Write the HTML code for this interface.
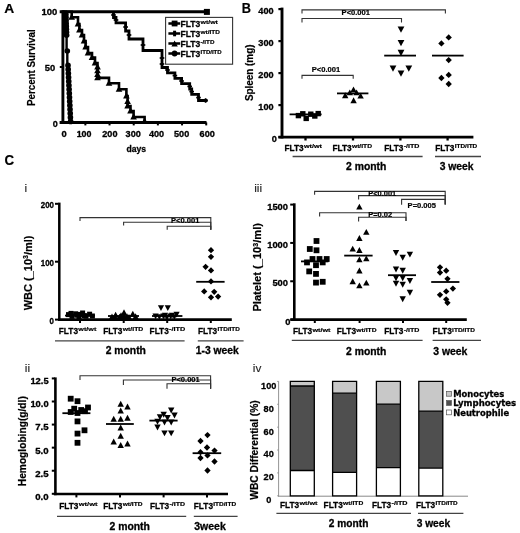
<!DOCTYPE html>
<html lang="en">
<head>
<meta charset="utf-8">
<title>FLT3 ITD figure</title>
<style>
html,body{margin:0;padding:0;background:#fff;}
body{width:520px;height:533px;overflow:hidden;}
svg{display:block;font-family:"Liberation Sans",sans-serif;font-weight:bold;filter:blur(0.35px);}
text{stroke:#000;stroke-width:0.3px;stroke-linejoin:round;}
text.n{stroke-width:0.15px;stroke:#333;}
text.s{stroke-width:0.2px;}
</style>
</head>
<body>
<svg width="520" height="533" viewBox="0 0 520 533">
<rect x="0" y="0" width="520" height="533" fill="#ffffff"/>
<text x="4.2" y="12.9" font-size="13.7" textLength="10" lengthAdjust="spacingAndGlyphs" class="s">A</text>
<text x="35" y="67.7" font-size="10.3" text-anchor="middle" textLength="76.7" lengthAdjust="spacingAndGlyphs" transform="rotate(-90 35 67.7)" class="s">Percent Survival</text>
<text x="57.4" y="15.1" font-size="8.6" text-anchor="end" textLength="15.8" lengthAdjust="spacingAndGlyphs">100</text>
<text x="55.2" y="70.8" font-size="8.6" text-anchor="end" textLength="10.4" lengthAdjust="spacingAndGlyphs">50</text>
<text x="57.8" y="126.7" font-size="8.6" text-anchor="end" textLength="5" lengthAdjust="spacingAndGlyphs">0</text>
<text x="64.2" y="137.3" font-size="8.6" text-anchor="middle" textLength="5.2" lengthAdjust="spacingAndGlyphs">0</text>
<text x="84.1" y="137.3" font-size="8.6" text-anchor="middle" textLength="14.8" lengthAdjust="spacingAndGlyphs">100</text>
<text x="109.9" y="137.3" font-size="8.6" text-anchor="middle" textLength="15.2" lengthAdjust="spacingAndGlyphs">200</text>
<text x="133.2" y="137.3" font-size="8.6" text-anchor="middle" textLength="15.2" lengthAdjust="spacingAndGlyphs">300</text>
<text x="156.5" y="137.3" font-size="8.6" text-anchor="middle" textLength="15.2" lengthAdjust="spacingAndGlyphs">400</text>
<text x="181.6" y="137.3" font-size="8.6" text-anchor="middle" textLength="15.2" lengthAdjust="spacingAndGlyphs">500</text>
<text x="207.2" y="137.3" font-size="8.6" text-anchor="middle" textLength="15.2" lengthAdjust="spacingAndGlyphs">600</text>
<text x="136.3" y="151.5" font-size="9.4" text-anchor="middle" textLength="19.6" lengthAdjust="spacingAndGlyphs">days</text>
<line x1="62.9" y1="10.2" x2="62.9" y2="123.9" stroke="#000" stroke-width="2.9"/>
<line x1="59.6" y1="122.4" x2="206.5" y2="122.4" stroke="#000" stroke-width="3"/>
<line x1="59.8" y1="67" x2="63" y2="67" stroke="#000" stroke-width="2"/>
<line x1="85.37" y1="122.4" x2="85.37" y2="125.4" stroke="#000" stroke-width="2"/>
<line x1="109.54" y1="122.4" x2="109.54" y2="125.4" stroke="#000" stroke-width="2"/>
<line x1="133.71" y1="122.4" x2="133.71" y2="125.4" stroke="#000" stroke-width="2"/>
<line x1="157.88" y1="122.4" x2="157.88" y2="125.4" stroke="#000" stroke-width="2"/>
<line x1="182.05" y1="122.4" x2="182.05" y2="125.4" stroke="#000" stroke-width="2"/>
<line x1="206.22" y1="122.4" x2="206.22" y2="125.4" stroke="#000" stroke-width="2"/>
<line x1="59.7" y1="11.7" x2="207" y2="11.7" stroke="#000" stroke-width="3"/>
<rect x="203.9" y="8.9" width="6" height="6" fill="#000"/>
<path d="M113.5,11.7 V17.5 H116 V22.9 H125.6 V31 H129 V39 H143 V50.5 H162 V67.5 H167.5 V72.9 H174.9 V78.3 H181.6 V83.6 H189.7 V89 H191.7 V94.4 H198.5 V100.5 H207.4" fill="none" stroke="#000" stroke-width="2.8" stroke-linejoin="miter"/>
<line x1="111.2" y1="15" x2="115.8" y2="15" stroke="#000" stroke-width="1.7"/>
<line x1="113.5" y1="12.7" x2="113.5" y2="17.3" stroke="#000" stroke-width="1.7"/>
<line x1="113.7" y1="20" x2="118.3" y2="20" stroke="#000" stroke-width="1.7"/>
<line x1="116" y1="17.7" x2="116" y2="22.3" stroke="#000" stroke-width="1.7"/>
<line x1="123.3" y1="27" x2="127.9" y2="27" stroke="#000" stroke-width="1.7"/>
<line x1="125.6" y1="24.7" x2="125.6" y2="29.3" stroke="#000" stroke-width="1.7"/>
<line x1="126.7" y1="35" x2="131.3" y2="35" stroke="#000" stroke-width="1.7"/>
<line x1="129" y1="32.7" x2="129" y2="37.3" stroke="#000" stroke-width="1.7"/>
<line x1="140.7" y1="45" x2="145.3" y2="45" stroke="#000" stroke-width="1.7"/>
<line x1="143" y1="42.7" x2="143" y2="47.3" stroke="#000" stroke-width="1.7"/>
<line x1="159.7" y1="58" x2="164.3" y2="58" stroke="#000" stroke-width="1.7"/>
<line x1="162" y1="55.7" x2="162" y2="60.3" stroke="#000" stroke-width="1.7"/>
<line x1="159.7" y1="64" x2="164.3" y2="64" stroke="#000" stroke-width="1.7"/>
<line x1="162" y1="61.7" x2="162" y2="66.3" stroke="#000" stroke-width="1.7"/>
<line x1="165.2" y1="70" x2="169.8" y2="70" stroke="#000" stroke-width="1.7"/>
<line x1="167.5" y1="67.7" x2="167.5" y2="72.3" stroke="#000" stroke-width="1.7"/>
<line x1="172.6" y1="75.6" x2="177.2" y2="75.6" stroke="#000" stroke-width="1.7"/>
<line x1="174.9" y1="73.3" x2="174.9" y2="77.9" stroke="#000" stroke-width="1.7"/>
<line x1="179.3" y1="81" x2="183.9" y2="81" stroke="#000" stroke-width="1.7"/>
<line x1="181.6" y1="78.7" x2="181.6" y2="83.3" stroke="#000" stroke-width="1.7"/>
<line x1="187.4" y1="86.4" x2="192" y2="86.4" stroke="#000" stroke-width="1.7"/>
<line x1="189.7" y1="84.1" x2="189.7" y2="88.7" stroke="#000" stroke-width="1.7"/>
<line x1="189.4" y1="91.6" x2="194" y2="91.6" stroke="#000" stroke-width="1.7"/>
<line x1="191.7" y1="89.3" x2="191.7" y2="93.9" stroke="#000" stroke-width="1.7"/>
<line x1="196.2" y1="97.6" x2="200.8" y2="97.6" stroke="#000" stroke-width="1.7"/>
<line x1="198.5" y1="95.3" x2="198.5" y2="99.9" stroke="#000" stroke-width="1.7"/>
<line x1="203.3" y1="100.5" x2="207.9" y2="100.5" stroke="#000" stroke-width="1.7"/>
<line x1="205.6" y1="98.2" x2="205.6" y2="102.8" stroke="#000" stroke-width="1.7"/>
<path d="M63.5,11.7 H71.7 V17.3 H78 V24 H79.4 V30 H82 V35 H84 V41 H85.6 V47 H88 V53 H92 V57.6 H95 V63 H97.5 V77.9 H109 V83.3 H119 V89.3 H126.4 V96 H127.6 V106 H130.5 V111 H133.6 V117 H144.6 V122" fill="none" stroke="#000" stroke-width="2.6" stroke-linejoin="miter"/>
<polygon points="71.7,13.56 75,19.64 68.4,19.64"/>
<polygon points="78,20.36 81.3,26.44 74.7,26.44"/>
<polygon points="79.4,26.36 82.7,32.44 76.1,32.44"/>
<polygon points="82,31.36 85.3,37.44 78.7,37.44"/>
<polygon points="84,37.36 87.3,43.44 80.7,43.44"/>
<polygon points="85.6,43.36 88.9,49.44 82.3,49.44"/>
<polygon points="88,49.36 91.3,55.44 84.7,55.44"/>
<polygon points="92,53.96 95.3,60.04 88.7,60.04"/>
<polygon points="95,59.36 98.3,65.44 91.7,65.44"/>
<polygon points="97.5,63.36 100.8,69.44 94.2,69.44"/>
<polygon points="97.5,67.16 100.8,73.24 94.2,73.24"/>
<polygon points="97.5,70.96 100.8,77.04 94.2,77.04"/>
<polygon points="97.5,74.26 100.8,80.34 94.2,80.34"/>
<polygon points="109,79.66 112.3,85.74 105.7,85.74"/>
<polygon points="119,85.66 122.3,91.74 115.7,91.74"/>
<polygon points="126.4,92.36 129.7,98.44 123.1,98.44"/>
<polygon points="127.6,97.96 130.9,104.04 124.3,104.04"/>
<polygon points="127.6,102.36 130.9,108.44 124.3,108.44"/>
<polygon points="130.5,107.36 133.8,113.44 127.2,113.44"/>
<polygon points="133.6,113.36 136.9,119.44 130.3,119.44"/>
<polygon points="144.6,117.56 147.9,123.64 141.3,123.64"/>
<circle cx="65.9" cy="14.6" r="2.8"/>
<circle cx="66" cy="17.55" r="2.8"/>
<circle cx="66.1" cy="20.5" r="2.8"/>
<circle cx="66.2" cy="23.45" r="2.8"/>
<circle cx="66.3" cy="26.4" r="2.8"/>
<circle cx="66.4" cy="29.35" r="2.8"/>
<circle cx="66.5" cy="32.3" r="2.8"/>
<circle cx="66.6" cy="35.25" r="2.8"/>
<circle cx="67.3" cy="51" r="2.8"/>
<circle cx="68" cy="65.4" r="2.8"/>
<circle cx="68.19" cy="69.4" r="2.8"/>
<circle cx="68.37" cy="73.4" r="2.8"/>
<circle cx="68.56" cy="77.4" r="2.8"/>
<circle cx="68.74" cy="81.4" r="2.8"/>
<circle cx="68.93" cy="85.4" r="2.8"/>
<circle cx="69.11" cy="89.4" r="2.8"/>
<circle cx="69.3" cy="93.4" r="2.8"/>
<circle cx="69.49" cy="97.4" r="2.8"/>
<circle cx="69.67" cy="101.4" r="2.8"/>
<circle cx="69.86" cy="105.4" r="2.8"/>
<circle cx="70.04" cy="109.4" r="2.8"/>
<circle cx="70.23" cy="113.4" r="2.8"/>
<circle cx="70.41" cy="117.4" r="2.8"/>
<circle cx="70.6" cy="121.4" r="2.8"/>
<path d="M63.5,11.7 H65.9 V14.6 H65.9 V17.55 H66 V20.5 H66.1 V23.45 H66.2 V26.4 H66.3 V29.35 H66.4 V32.3 H66.5 V35.25 H66.6 V51 H67.3 V65.4 H68 V69.4 H68.19 V73.4 H68.37 V77.4 H68.56 V81.4 H68.74 V85.4 H68.93 V89.4 H69.11 V93.4 H69.3 V97.4 H69.49 V101.4 H69.67 V105.4 H69.86 V109.4 H70.04 V113.4 H70.23 V117.4 H70.41 V121.4 H70.6 V122" fill="none" stroke="#000" stroke-width="2.4"/>
<rect x="165.6" y="17.4" width="67" height="46.8" fill="#fff" stroke="#333" stroke-width="1.1"/>
<line x1="168.4" y1="23.5" x2="180.2" y2="23.5" stroke="#000" stroke-width="2.5"/>
<rect x="171.7" y="20.6" width="5.8" height="5.8" fill="#000"/>
<text x="180.5" y="27" font-size="9.6" textLength="19.8" lengthAdjust="spacingAndGlyphs">FLT3</text>
<text x="200.5" y="24.3" font-size="6.2" textLength="17.4" lengthAdjust="spacingAndGlyphs" class="s">wt/wt</text>
<line x1="168.4" y1="33.5" x2="180.2" y2="33.5" stroke="#000" stroke-width="2.5"/>
<line x1="174.6" y1="30.7" x2="174.6" y2="36.3" stroke="#000" stroke-width="3"/>
<text x="180.5" y="37" font-size="9.6" textLength="19.8" lengthAdjust="spacingAndGlyphs">FLT3</text>
<text x="200.5" y="34.3" font-size="6.2" textLength="19.4" lengthAdjust="spacingAndGlyphs" class="s">wt/ITD</text>
<line x1="168.4" y1="43.5" x2="180.2" y2="43.5" stroke="#000" stroke-width="2.5"/>
<polygon points="174.6,40.56 177.8,46.44 171.4,46.44"/>
<text x="180.5" y="47" font-size="9.6" textLength="19.8" lengthAdjust="spacingAndGlyphs">FLT3</text>
<text x="200.5" y="44.3" font-size="6.2" textLength="13.9" lengthAdjust="spacingAndGlyphs" class="s">-/ITD</text>
<line x1="168.4" y1="53.5" x2="180.2" y2="53.5" stroke="#000" stroke-width="2.5"/>
<circle cx="174.6" cy="53.5" r="2.9"/>
<text x="180.5" y="57" font-size="9.6" textLength="19.8" lengthAdjust="spacingAndGlyphs">FLT3</text>
<text x="200.5" y="54.3" font-size="6.2" textLength="21.2" lengthAdjust="spacingAndGlyphs" class="s">ITD/ITD</text>
<text x="241.7" y="13.1" font-size="13.8" textLength="9.2" lengthAdjust="spacingAndGlyphs" class="s">B</text>
<text x="253.4" y="72.8" font-size="10.4" text-anchor="middle" textLength="56.6" lengthAdjust="spacingAndGlyphs" transform="rotate(-90 253.4 72.8)" class="s">Spleen (mg)</text>
<text x="276.8" y="142.4" font-size="9" text-anchor="end" textLength="5.1" lengthAdjust="spacingAndGlyphs">0</text>
<line x1="278.4" y1="137.1" x2="281" y2="137.1" stroke="#000" stroke-width="2.2"/>
<text x="273.6" y="109.8" font-size="9" text-anchor="end" textLength="15.3" lengthAdjust="spacingAndGlyphs">100</text>
<line x1="278.4" y1="105.1" x2="281" y2="105.1" stroke="#000" stroke-width="2.2"/>
<text x="273.6" y="77.8" font-size="9" text-anchor="end" textLength="15.3" lengthAdjust="spacingAndGlyphs">200</text>
<line x1="278.4" y1="73.1" x2="281" y2="73.1" stroke="#000" stroke-width="2.2"/>
<text x="273.6" y="45.8" font-size="9" text-anchor="end" textLength="15.3" lengthAdjust="spacingAndGlyphs">300</text>
<line x1="278.4" y1="41.1" x2="281" y2="41.1" stroke="#000" stroke-width="2.2"/>
<text x="273.6" y="13.8" font-size="9" text-anchor="end" textLength="15.3" lengthAdjust="spacingAndGlyphs">400</text>
<line x1="278.4" y1="9.1" x2="281" y2="9.1" stroke="#000" stroke-width="2.2"/>
<line x1="282" y1="7.6" x2="282" y2="138.5" stroke="#000" stroke-width="2.9"/>
<line x1="278.4" y1="137.1" x2="473.4" y2="137.1" stroke="#000" stroke-width="2.9"/>
<line x1="305.5" y1="137" x2="305.5" y2="140.5" stroke="#000" stroke-width="2.3"/>
<line x1="353" y1="137" x2="353" y2="140.5" stroke="#000" stroke-width="2.3"/>
<line x1="400.4" y1="137" x2="400.4" y2="140.5" stroke="#000" stroke-width="2.3"/>
<line x1="447.6" y1="137" x2="447.6" y2="140.5" stroke="#000" stroke-width="2.3"/>
<text x="284.4" y="150.6" font-size="9.8" textLength="19.2" lengthAdjust="spacingAndGlyphs">FLT3</text>
<text x="303.9" y="148" font-size="6.2" textLength="18" lengthAdjust="spacingAndGlyphs" class="s">wt/wt</text>
<text x="332.4" y="150.6" font-size="9.8" textLength="19.2" lengthAdjust="spacingAndGlyphs">FLT3</text>
<text x="351.9" y="148" font-size="6.2" textLength="20.2" lengthAdjust="spacingAndGlyphs" class="s">wt/ITD</text>
<text x="384.2" y="150.6" font-size="9.8" textLength="19.2" lengthAdjust="spacingAndGlyphs">FLT3</text>
<text x="403.7" y="148" font-size="6.2" textLength="15.8" lengthAdjust="spacingAndGlyphs" class="s">-/ITD</text>
<text x="435.2" y="150.6" font-size="9.8" textLength="19.2" lengthAdjust="spacingAndGlyphs">FLT3</text>
<text x="454.7" y="148" font-size="6.2" textLength="22.6" lengthAdjust="spacingAndGlyphs" class="s">ITD/ITD</text>
<line x1="292.6" y1="156.5" x2="422.6" y2="156.5" stroke="#444" stroke-width="1.3"/>
<line x1="435" y1="156.5" x2="481" y2="156.5" stroke="#444" stroke-width="1.3"/>
<text x="366.2" y="170" font-size="10.3" text-anchor="middle" textLength="40.3" lengthAdjust="spacingAndGlyphs">2 month</text>
<text x="456.6" y="170" font-size="10.3" text-anchor="middle" textLength="33.8" lengthAdjust="spacingAndGlyphs">3 week</text>
<path d="M302,13.5 V9.9 H445.4 V13.5" fill="none" stroke="#333" stroke-width="1.1"/>
<path d="M302,22.4 V18.5 H401.5 V22.4" fill="none" stroke="#333" stroke-width="1.1"/>
<path d="M302,78.8 V75.4 H353.2 V78.8" fill="none" stroke="#333" stroke-width="1.1"/>
<text x="355.8" y="15" font-size="7.4" text-anchor="middle" textLength="28.4" lengthAdjust="spacingAndGlyphs" class="s">P&lt;0.001</text>
<text x="326" y="72" font-size="7.4" text-anchor="middle" textLength="28.4" lengthAdjust="spacingAndGlyphs" class="s">P&lt;0.001</text>
<line x1="289.6" y1="114.4" x2="321.6" y2="114.4" stroke="#000" stroke-width="1.8"/>
<rect x="295.7" y="112.9" width="5.4" height="5.4" fill="#000"/>
<rect x="300.1" y="111.1" width="5.4" height="5.4" fill="#000"/>
<rect x="303.5" y="115.7" width="5.4" height="5.4" fill="#000"/>
<rect x="308.1" y="111.5" width="5.4" height="5.4" fill="#000"/>
<rect x="312.1" y="113.3" width="5.4" height="5.4" fill="#000"/>
<rect x="315.5" y="110.9" width="5.4" height="5.4" fill="#000"/>
<line x1="337" y1="93.4" x2="368.4" y2="93.4" stroke="#000" stroke-width="1.8"/>
<polygon points="345.2,92.26 348.4,98.14 342,98.14"/>
<polygon points="349.8,89.46 353,95.34 346.6,95.34"/>
<polygon points="353.5,86.46 356.7,92.34 350.3,92.34"/>
<polygon points="353.6,97.26 356.8,103.14 350.4,103.14"/>
<polygon points="356.6,89.46 359.8,95.34 353.4,95.34"/>
<polygon points="360.6,92.66 363.8,98.54 357.4,98.54"/>
<line x1="384.2" y1="55.6" x2="416" y2="55.6" stroke="#000" stroke-width="1.8"/>
<polygon points="401,32.83 404.4,26.57 397.6,26.57"/>
<polygon points="401,46.23 404.4,39.97 397.6,39.97"/>
<polygon points="401,56.13 404.4,49.87 397.6,49.87"/>
<polygon points="393,71.73 396.4,65.47 389.6,65.47"/>
<polygon points="401,76.73 404.4,70.47 397.6,70.47"/>
<polygon points="408.8,71.73 412.2,65.47 405.4,65.47"/>
<line x1="432" y1="55.6" x2="463.6" y2="55.6" stroke="#000" stroke-width="1.8"/>
<polygon points="448.7,34.25 451.85,37.4 448.7,40.55 445.55,37.4"/>
<polygon points="441.4,40.25 444.55,43.4 441.4,46.55 438.25,43.4"/>
<polygon points="448.7,56.95 451.85,60.1 448.7,63.25 445.55,60.1"/>
<polygon points="448.7,71.75 451.85,74.9 448.7,78.05 445.55,74.9"/>
<polygon points="441.4,74.85 444.55,78 441.4,81.15 438.25,78"/>
<polygon points="448.7,80.85 451.85,84 448.7,87.15 445.55,84"/>
<text x="4.5" y="165.2" font-size="13.9" textLength="9.6" lengthAdjust="spacingAndGlyphs" class="s">C</text>
<text x="24.6" y="192.4" font-size="11.8" font-weight="normal" class="n" fill="#222">i</text>
<g transform="translate(31.5 272.9) rotate(-90)">
<text x="-37.4" y="0" font-size="10.6" textLength="51.35" lengthAdjust="spacingAndGlyphs" class="s">WBC (_10</text>
<text x="13.95" y="-3.82" font-size="6.78" textLength="3.89" lengthAdjust="spacingAndGlyphs" class="s">3</text>
<text x="17.84" y="0" font-size="10.6" textLength="19.56" lengthAdjust="spacingAndGlyphs" class="s">/ml)</text>
</g>
<text x="54" y="324.2" font-size="8.4" text-anchor="end" textLength="4.4" lengthAdjust="spacingAndGlyphs">0</text>
<line x1="55" y1="319.6" x2="58.4" y2="319.6" stroke="#000" stroke-width="2"/>
<text x="54" y="266.1" font-size="8.4" text-anchor="end" textLength="13.2" lengthAdjust="spacingAndGlyphs">100</text>
<line x1="55" y1="261.7" x2="58.4" y2="261.7" stroke="#000" stroke-width="2"/>
<text x="54" y="208.2" font-size="8.4" text-anchor="end" textLength="13.2" lengthAdjust="spacingAndGlyphs">200</text>
<line x1="55" y1="203.8" x2="58.4" y2="203.8" stroke="#000" stroke-width="2"/>
<line x1="59.3" y1="202.6" x2="59.3" y2="321" stroke="#000" stroke-width="2.5"/>
<line x1="58" y1="319.6" x2="231.8" y2="319.6" stroke="#000" stroke-width="2.6"/>
<line x1="80" y1="319.6" x2="80" y2="323" stroke="#000" stroke-width="2"/>
<line x1="123.7" y1="319.6" x2="123.7" y2="323" stroke="#000" stroke-width="2"/>
<line x1="167.2" y1="319.6" x2="167.2" y2="323" stroke="#000" stroke-width="2"/>
<line x1="210.8" y1="319.6" x2="210.8" y2="323" stroke="#000" stroke-width="2"/>
<text x="58.8" y="333.6" font-size="9.8" textLength="19.2" lengthAdjust="spacingAndGlyphs">FLT3</text>
<text x="78.3" y="331" font-size="6.2" textLength="18" lengthAdjust="spacingAndGlyphs" class="s">wt/wt</text>
<text x="103.2" y="333.6" font-size="9.8" textLength="19.2" lengthAdjust="spacingAndGlyphs">FLT3</text>
<text x="122.7" y="331" font-size="6.2" textLength="20.6" lengthAdjust="spacingAndGlyphs" class="s">wt/ITD</text>
<text x="149.6" y="333.6" font-size="9.8" textLength="19.2" lengthAdjust="spacingAndGlyphs">FLT3</text>
<text x="169.1" y="331" font-size="6.2" textLength="16.2" lengthAdjust="spacingAndGlyphs" class="s">-/ITD</text>
<text x="198" y="333.6" font-size="9.8" textLength="19.2" lengthAdjust="spacingAndGlyphs">FLT3</text>
<text x="217.5" y="331" font-size="6.2" textLength="22.4" lengthAdjust="spacingAndGlyphs" class="s">ITD/ITD</text>
<line x1="55" y1="340.9" x2="184.6" y2="340.9" stroke="#444" stroke-width="1.3"/>
<line x1="197.8" y1="340.9" x2="243.6" y2="340.9" stroke="#444" stroke-width="1.3"/>
<text x="125.8" y="354.4" font-size="10.3" text-anchor="middle" textLength="40.2" lengthAdjust="spacingAndGlyphs">2 month</text>
<text x="217.3" y="354.4" font-size="10.3" text-anchor="middle" textLength="43" lengthAdjust="spacingAndGlyphs">1-3 week</text>
<path d="M80,221 V217.6 H210.8 V229.8" fill="none" stroke="#333" stroke-width="1.1"/>
<path d="M123.6,225.6 V222.2 H210.8 V229.8" fill="none" stroke="#333" stroke-width="1.1"/>
<path d="M167.2,229.8 V226.2 H210.8 V229.8" fill="none" stroke="#333" stroke-width="1.1"/>
<text x="185.2" y="222.8" font-size="7.4" text-anchor="middle" textLength="28.4" lengthAdjust="spacingAndGlyphs" class="s">P&lt;0.001</text>
<line x1="65" y1="315.6" x2="95" y2="315.6" stroke="#000" stroke-width="1.8"/>
<rect x="66" y="312.1" width="5" height="5" fill="#000"/>
<rect x="69.5" y="313.9" width="5" height="5" fill="#000"/>
<rect x="73.1" y="311.3" width="5" height="5" fill="#000"/>
<rect x="76.5" y="314.1" width="5" height="5" fill="#000"/>
<rect x="80.1" y="310.5" width="5" height="5" fill="#000"/>
<rect x="83.5" y="313.7" width="5" height="5" fill="#000"/>
<rect x="87.1" y="311.7" width="5" height="5" fill="#000"/>
<rect x="89.9" y="313.5" width="5" height="5" fill="#000"/>
<rect x="68.5" y="310.9" width="5" height="5" fill="#000"/>
<rect x="77.5" y="311.9" width="5" height="5" fill="#000"/>
<rect x="81.9" y="313.1" width="5" height="5" fill="#000"/>
<rect x="74.5" y="312.7" width="5" height="5" fill="#000"/>
<line x1="108" y1="316" x2="139" y2="316" stroke="#000" stroke-width="1.8"/>
<polygon points="112,313.56 115.3,319.64 108.7,319.64"/>
<polygon points="115.6,311.76 118.9,317.84 112.3,317.84"/>
<polygon points="119.6,313.76 122.9,319.84 116.3,319.84"/>
<polygon points="124,309.36 127.3,315.44 120.7,315.44"/>
<polygon points="127,313.16 130.3,319.24 123.7,319.24"/>
<polygon points="132.8,310.76 136.1,316.84 129.5,316.84"/>
<polygon points="135.6,313.36 138.9,319.44 132.3,319.44"/>
<polygon points="124,313.56 127.3,319.64 120.7,319.64"/>
<polygon points="121,312.36 124.3,318.44 117.7,318.44"/>
<polygon points="129,313.96 132.3,320.04 125.7,320.04"/>
<polygon points="115,313.96 118.3,320.04 111.7,320.04"/>
<line x1="152" y1="316" x2="182.4" y2="316" stroke="#000" stroke-width="1.8"/>
<polygon points="161,311.05 164.1,305.35 157.9,305.35"/>
<polygon points="167.8,311.05 170.9,305.35 164.7,305.35"/>
<polygon points="176.6,317.45 179.7,311.75 173.5,311.75"/>
<polygon points="155.6,319.25 158.7,313.55 152.5,313.55"/>
<polygon points="159.4,319.85 162.5,314.15 156.3,314.15"/>
<polygon points="163.4,319.25 166.5,313.55 160.3,313.55"/>
<polygon points="167,320.25 170.1,314.55 163.9,314.55"/>
<polygon points="170.6,319.25 173.7,313.55 167.5,313.55"/>
<polygon points="174.4,319.85 177.5,314.15 171.3,314.15"/>
<polygon points="165,318.45 168.1,312.75 161.9,312.75"/>
<polygon points="172,318.45 175.1,312.75 168.9,312.75"/>
<line x1="196.2" y1="281.8" x2="224.6" y2="281.8" stroke="#000" stroke-width="1.8"/>
<polygon points="211,247.05 214.15,250.2 211,253.35 207.85,250.2"/>
<polygon points="211,253.65 214.15,256.8 211,259.95 207.85,256.8"/>
<polygon points="205.6,263.65 208.75,266.8 205.6,269.95 202.45,266.8"/>
<polygon points="211,267.25 214.15,270.4 211,273.55 207.85,270.4"/>
<polygon points="211,278.25 214.15,281.4 211,284.55 207.85,281.4"/>
<polygon points="204.2,288.25 207.35,291.4 204.2,294.55 201.05,291.4"/>
<polygon points="214.2,288.65 217.35,291.8 214.2,294.95 211.05,291.8"/>
<polygon points="211,294.15 214.15,297.3 211,300.45 207.85,297.3"/>
<polygon points="218.1,293.45 221.25,296.6 218.1,299.75 214.95,296.6"/>
<text x="254.2" y="192.4" font-size="11.8" font-weight="normal" class="n" fill="#222">iii</text>
<g transform="translate(261.2 267.3) rotate(-90)">
<text x="-44.25" y="0" font-size="10.2" textLength="64.83" lengthAdjust="spacingAndGlyphs" class="s">Platelet (_10</text>
<text x="20.58" y="-3.67" font-size="6.53" textLength="3.92" lengthAdjust="spacingAndGlyphs" class="s">3</text>
<text x="24.5" y="0" font-size="10.2" textLength="19.75" lengthAdjust="spacingAndGlyphs" class="s">/ml)</text>
</g>
<text x="290.4" y="324.9" font-size="9.2" text-anchor="end" textLength="5.2" lengthAdjust="spacingAndGlyphs">0</text>
<line x1="290.2" y1="319.6" x2="293.4" y2="319.6" stroke="#000" stroke-width="2"/>
<text x="288" y="286.17" font-size="9.2" text-anchor="end" textLength="15.6" lengthAdjust="spacingAndGlyphs">500</text>
<line x1="290.2" y1="281.27" x2="293.4" y2="281.27" stroke="#000" stroke-width="2"/>
<text x="288" y="247.83" font-size="9.2" text-anchor="end" textLength="20.8" lengthAdjust="spacingAndGlyphs">1000</text>
<line x1="290.2" y1="242.93" x2="293.4" y2="242.93" stroke="#000" stroke-width="2"/>
<text x="288" y="209.5" font-size="9.2" text-anchor="end" textLength="20.8" lengthAdjust="spacingAndGlyphs">1500</text>
<line x1="290.2" y1="204.6" x2="293.4" y2="204.6" stroke="#000" stroke-width="2"/>
<line x1="294.3" y1="203.3" x2="294.3" y2="321" stroke="#000" stroke-width="2.6"/>
<line x1="290.4" y1="319.6" x2="466.8" y2="319.6" stroke="#000" stroke-width="2.6"/>
<line x1="314.8" y1="319.6" x2="314.8" y2="323" stroke="#000" stroke-width="2"/>
<line x1="359.6" y1="319.6" x2="359.6" y2="323" stroke="#000" stroke-width="2"/>
<line x1="403" y1="319.6" x2="403" y2="323" stroke="#000" stroke-width="2"/>
<line x1="446.2" y1="319.6" x2="446.2" y2="323" stroke="#000" stroke-width="2"/>
<text x="293" y="334.4" font-size="9.8" textLength="19.2" lengthAdjust="spacingAndGlyphs">FLT3</text>
<text x="312.5" y="331.8" font-size="6.2" textLength="18" lengthAdjust="spacingAndGlyphs" class="s">wt/wt</text>
<text x="336.8" y="334.4" font-size="9.8" textLength="19.2" lengthAdjust="spacingAndGlyphs">FLT3</text>
<text x="356.3" y="331.8" font-size="6.2" textLength="20.2" lengthAdjust="spacingAndGlyphs" class="s">wt/ITD</text>
<text x="384.2" y="334.4" font-size="9.8" textLength="19.2" lengthAdjust="spacingAndGlyphs">FLT3</text>
<text x="403.7" y="331.8" font-size="6.2" textLength="15.8" lengthAdjust="spacingAndGlyphs" class="s">-/ITD</text>
<text x="432.6" y="334.4" font-size="9.8" textLength="19.2" lengthAdjust="spacingAndGlyphs">FLT3</text>
<text x="452.1" y="331.8" font-size="6.2" textLength="22.8" lengthAdjust="spacingAndGlyphs" class="s">ITD/ITD</text>
<line x1="291.8" y1="340.4" x2="422.6" y2="340.4" stroke="#444" stroke-width="1.3"/>
<line x1="432.6" y1="340.4" x2="481" y2="340.4" stroke="#444" stroke-width="1.3"/>
<text x="366.2" y="354.6" font-size="10.3" text-anchor="middle" textLength="40.2" lengthAdjust="spacingAndGlyphs">2 month</text>
<text x="450.3" y="354.6" font-size="10.3" text-anchor="middle" textLength="34.2" lengthAdjust="spacingAndGlyphs">3 week</text>
<path d="M314.6,194.8 V191.4 H445.2 V204.6" fill="none" stroke="#333" stroke-width="1.1"/>
<path d="M358.6,199.4 V195.6 H445.2 V204.6" fill="none" stroke="#333" stroke-width="1.1"/>
<path d="M401.6,204.8 V199.4 H445.2 V204.6" fill="none" stroke="#333" stroke-width="1.1"/>
<path d="M319.6,216.4 V212.8 H406 V221" fill="none" stroke="#333" stroke-width="1.1"/>
<path d="M358.6,221.6 V217.2 H406 V221" fill="none" stroke="#333" stroke-width="1.1"/>
<text x="382.2" y="195.6" font-size="7.4" text-anchor="middle" textLength="28" lengthAdjust="spacingAndGlyphs" class="s">P&lt;0.001</text>
<text x="421.8" y="207.6" font-size="7.4" text-anchor="middle" textLength="28.4" lengthAdjust="spacingAndGlyphs" class="s">P=0.005</text>
<text x="380.2" y="216.8" font-size="7.4" text-anchor="middle" textLength="24" lengthAdjust="spacingAndGlyphs" class="s">P=0.02</text>
<line x1="301" y1="261.4" x2="328.4" y2="261.4" stroke="#000" stroke-width="1.8"/>
<rect x="313.6" y="238.1" width="5.8" height="5.8" fill="#000"/>
<rect x="306.9" y="246.1" width="5.8" height="5.8" fill="#000"/>
<rect x="313.6" y="247.4" width="5.8" height="5.8" fill="#000"/>
<rect x="309.6" y="256.1" width="5.8" height="5.8" fill="#000"/>
<rect x="316.6" y="256.1" width="5.8" height="5.8" fill="#000"/>
<rect x="323.8" y="256.1" width="5.8" height="5.8" fill="#000"/>
<rect x="304.1" y="259.5" width="5.8" height="5.8" fill="#000"/>
<rect x="313.1" y="262.3" width="5.8" height="5.8" fill="#000"/>
<rect x="319.8" y="259.5" width="5.8" height="5.8" fill="#000"/>
<rect x="306.3" y="268.5" width="5.8" height="5.8" fill="#000"/>
<rect x="313.1" y="271" width="5.8" height="5.8" fill="#000"/>
<rect x="313.1" y="279.7" width="5.8" height="5.8" fill="#000"/>
<rect x="319.8" y="278.9" width="5.8" height="5.8" fill="#000"/>
<line x1="344.2" y1="255.6" x2="372.6" y2="255.6" stroke="#000" stroke-width="1.8"/>
<polygon points="359.4,203.66 362.6,209.54 356.2,209.54"/>
<polygon points="366.3,228.96 369.5,234.84 363.1,234.84"/>
<polygon points="359.4,235.06 362.6,240.94 356.2,240.94"/>
<polygon points="352.7,245.66 355.9,251.54 349.5,251.54"/>
<polygon points="359.4,247.06 362.6,252.94 356.2,252.94"/>
<polygon points="366.3,255.46 369.5,261.34 363.1,261.34"/>
<polygon points="359.4,256.46 362.6,262.34 356.2,262.34"/>
<polygon points="359.4,267.56 362.6,273.44 356.2,273.44"/>
<polygon points="352.7,278.36 355.9,284.24 349.5,284.24"/>
<polygon points="366.3,279.66 369.5,285.54 363.1,285.54"/>
<polygon points="359.4,282.46 362.6,288.34 356.2,288.34"/>
<line x1="388" y1="275.2" x2="416" y2="275.2" stroke="#000" stroke-width="1.8"/>
<polygon points="396,255.94 399.2,250.06 392.8,250.06"/>
<polygon points="402.7,260.74 405.9,254.86 399.5,254.86"/>
<polygon points="409.9,257.54 413.1,251.66 406.7,251.66"/>
<polygon points="396,272.44 399.2,266.56 392.8,266.56"/>
<polygon points="402.7,273.64 405.9,267.76 399.5,267.76"/>
<polygon points="396,281.24 399.2,275.36 392.8,275.36"/>
<polygon points="402.7,281.24 405.9,275.36 399.5,275.36"/>
<polygon points="409.9,283.94 413.1,278.06 406.7,278.06"/>
<polygon points="396,286.64 399.2,280.76 392.8,280.76"/>
<polygon points="402.7,287.74 405.9,281.86 399.5,281.86"/>
<polygon points="409.9,295.74 413.1,289.86 406.7,289.86"/>
<polygon points="402.7,302.14 405.9,296.26 399.5,296.26"/>
<line x1="431.2" y1="282" x2="459.4" y2="282" stroke="#000" stroke-width="1.8"/>
<polygon points="440,264.15 443.15,267.3 440,270.45 436.85,267.3"/>
<polygon points="440,269.45 443.15,272.6 440,275.75 436.85,272.6"/>
<polygon points="446.2,267.55 449.35,270.7 446.2,273.85 443.05,270.7"/>
<polygon points="447.5,275.65 450.65,278.8 447.5,281.95 444.35,278.8"/>
<polygon points="452.9,285.45 456.05,288.6 452.9,291.75 449.75,288.6"/>
<polygon points="446.2,288.25 449.35,291.4 446.2,294.55 443.05,291.4"/>
<polygon points="440,291.65 443.15,294.8 440,297.95 436.85,294.8"/>
<polygon points="446.2,296.15 449.35,299.3 446.2,302.45 443.05,299.3"/>
<polygon points="447.5,299.65 450.65,302.8 447.5,305.95 444.35,302.8"/>
<text x="24.8" y="371.6" font-size="11.8" font-weight="normal" class="n" fill="#222">ii</text>
<text x="26" y="441.2" font-size="10.2" text-anchor="middle" textLength="90" lengthAdjust="spacingAndGlyphs" transform="rotate(-90 26 441.2)" class="s">Hemoglobing(g/dl)</text>
<text x="48.6" y="499.7" font-size="9.2" text-anchor="end" textLength="13.4" lengthAdjust="spacingAndGlyphs">0.0</text>
<line x1="51.8" y1="493.8" x2="55" y2="493.8" stroke="#000" stroke-width="2"/>
<text x="48.6" y="476.62" font-size="9.2" text-anchor="end" textLength="13.4" lengthAdjust="spacingAndGlyphs">2.5</text>
<line x1="51.8" y1="470.73" x2="55" y2="470.73" stroke="#000" stroke-width="2"/>
<text x="48.6" y="453.55" font-size="9.2" text-anchor="end" textLength="13.4" lengthAdjust="spacingAndGlyphs">5.0</text>
<line x1="51.8" y1="447.65" x2="55" y2="447.65" stroke="#000" stroke-width="2"/>
<text x="48.6" y="430.47" font-size="9.2" text-anchor="end" textLength="13.4" lengthAdjust="spacingAndGlyphs">7.5</text>
<line x1="51.8" y1="424.57" x2="55" y2="424.57" stroke="#000" stroke-width="2"/>
<text x="48.6" y="407.4" font-size="9.2" text-anchor="end" textLength="18.2" lengthAdjust="spacingAndGlyphs">10.0</text>
<line x1="51.8" y1="401.5" x2="55" y2="401.5" stroke="#000" stroke-width="2"/>
<text x="48.6" y="384.32" font-size="9.2" text-anchor="end" textLength="18.2" lengthAdjust="spacingAndGlyphs">12.5</text>
<line x1="51.8" y1="378.43" x2="55" y2="378.43" stroke="#000" stroke-width="2"/>
<line x1="55.4" y1="377.4" x2="55.4" y2="495.2" stroke="#000" stroke-width="2.6"/>
<line x1="53.8" y1="494" x2="228" y2="494" stroke="#000" stroke-width="2.6"/>
<line x1="76.4" y1="494" x2="76.4" y2="497.4" stroke="#000" stroke-width="2"/>
<line x1="120" y1="494" x2="120" y2="497.4" stroke="#000" stroke-width="2"/>
<line x1="163.6" y1="494" x2="163.6" y2="497.4" stroke="#000" stroke-width="2"/>
<line x1="207" y1="494" x2="207" y2="497.4" stroke="#000" stroke-width="2"/>
<text x="59.2" y="509" font-size="9.8" textLength="19.2" lengthAdjust="spacingAndGlyphs">FLT3</text>
<text x="78.7" y="506.4" font-size="6.2" textLength="18.8" lengthAdjust="spacingAndGlyphs" class="s">wt/wt</text>
<text x="103.2" y="509" font-size="9.8" textLength="19.2" lengthAdjust="spacingAndGlyphs">FLT3</text>
<text x="122.7" y="506.4" font-size="6.2" textLength="19.8" lengthAdjust="spacingAndGlyphs" class="s">wt/ITD</text>
<text x="150" y="509" font-size="9.8" textLength="19.2" lengthAdjust="spacingAndGlyphs">FLT3</text>
<text x="169.5" y="506.4" font-size="6.2" textLength="15.6" lengthAdjust="spacingAndGlyphs" class="s">-/ITD</text>
<text x="193.8" y="509" font-size="9.8" textLength="19.2" lengthAdjust="spacingAndGlyphs">FLT3</text>
<text x="213.3" y="506.4" font-size="6.2" textLength="22.8" lengthAdjust="spacingAndGlyphs" class="s">ITD/ITD</text>
<line x1="57" y1="516.4" x2="186.2" y2="516.4" stroke="#444" stroke-width="1.3"/>
<line x1="193.8" y1="516.4" x2="237.6" y2="516.4" stroke="#444" stroke-width="1.3"/>
<text x="129.7" y="530.4" font-size="10.4" text-anchor="middle" textLength="40.4" lengthAdjust="spacingAndGlyphs">2 month</text>
<text x="210" y="530.4" font-size="10.4" text-anchor="middle" textLength="31.5" lengthAdjust="spacingAndGlyphs">3week</text>
<path d="M80,380 V375.8 H210.6 V388.8" fill="none" stroke="#333" stroke-width="1.1"/>
<path d="M123.4,385 V380 H210.6 V388.8" fill="none" stroke="#333" stroke-width="1.1"/>
<path d="M167,388.8 V383.8 H210.6 V388.8" fill="none" stroke="#333" stroke-width="1.1"/>
<text x="185.6" y="381.8" font-size="7.4" text-anchor="middle" textLength="28.4" lengthAdjust="spacingAndGlyphs" class="s">P&lt;0.001</text>
<line x1="62.4" y1="413.2" x2="90.4" y2="413.2" stroke="#000" stroke-width="1.8"/>
<rect x="67.8" y="395.8" width="5.8" height="5.8" fill="#000"/>
<rect x="74.6" y="398.3" width="5.8" height="5.8" fill="#000"/>
<rect x="85.1" y="404.6" width="5.8" height="5.8" fill="#000"/>
<rect x="71.3" y="405.8" width="5.8" height="5.8" fill="#000"/>
<rect x="78.3" y="407.1" width="5.8" height="5.8" fill="#000"/>
<rect x="67.8" y="409.1" width="5.8" height="5.8" fill="#000"/>
<rect x="74.6" y="410.1" width="5.8" height="5.8" fill="#000"/>
<rect x="82.1" y="408.3" width="5.8" height="5.8" fill="#000"/>
<rect x="74.6" y="418.5" width="5.8" height="5.8" fill="#000"/>
<rect x="81.6" y="427.4" width="5.8" height="5.8" fill="#000"/>
<rect x="74.6" y="430.7" width="5.8" height="5.8" fill="#000"/>
<rect x="74.6" y="439.9" width="5.8" height="5.8" fill="#000"/>
<line x1="106" y1="424" x2="133.8" y2="424" stroke="#000" stroke-width="1.8"/>
<polygon points="120.7,400.76 123.9,406.64 117.5,406.64"/>
<polygon points="127.5,403.56 130.7,409.44 124.3,409.44"/>
<polygon points="120.7,407.56 123.9,413.44 117.5,413.44"/>
<polygon points="113.7,415.76 116.9,421.64 110.5,421.64"/>
<polygon points="120.7,415.76 123.9,421.64 117.5,421.64"/>
<polygon points="127.5,414.76 130.7,420.64 124.3,420.64"/>
<polygon points="120.7,424.56 123.9,430.44 117.5,430.44"/>
<polygon points="120.7,432.86 123.9,438.74 117.5,438.74"/>
<polygon points="113.7,438.56 116.9,444.44 110.5,444.44"/>
<polygon points="120.7,442.06 123.9,447.94 117.5,447.94"/>
<polygon points="127.5,440.56 130.7,446.44 124.3,446.44"/>
<line x1="149.4" y1="420.6" x2="177.6" y2="420.6" stroke="#000" stroke-width="1.8"/>
<polygon points="171.2,413.44 174.4,407.56 168,407.56"/>
<polygon points="163.7,417.64 166.9,411.76 160.5,411.76"/>
<polygon points="174.5,418.44 177.7,412.56 171.3,412.56"/>
<polygon points="160,420.14 163.2,414.26 156.8,414.26"/>
<polygon points="167.5,420.94 170.7,415.06 164.3,415.06"/>
<polygon points="157.5,424.64 160.7,418.76 154.3,418.76"/>
<polygon points="164.5,425.44 167.7,419.56 161.3,419.56"/>
<polygon points="171.2,425.44 174.4,419.56 168,419.56"/>
<polygon points="157.5,430.44 160.7,424.56 154.3,424.56"/>
<polygon points="164.5,436.34 167.7,430.46 161.3,430.46"/>
<polygon points="171.2,436.34 174.4,430.46 168,430.46"/>
<line x1="192.6" y1="453.2" x2="221.2" y2="453.2" stroke="#000" stroke-width="1.8"/>
<polygon points="207.5,431.95 210.65,435.1 207.5,438.25 204.35,435.1"/>
<polygon points="200.5,437.85 203.65,441 200.5,444.15 197.35,441"/>
<polygon points="207,444.35 210.15,447.5 207,450.65 203.85,447.5"/>
<polygon points="200.5,449.05 203.65,452.2 200.5,455.35 197.35,452.2"/>
<polygon points="214.5,447.45 217.65,450.6 214.5,453.75 211.35,450.6"/>
<polygon points="207.5,452.25 210.65,455.4 207.5,458.55 204.35,455.4"/>
<polygon points="200.5,454.85 203.65,458 200.5,461.15 197.35,458"/>
<polygon points="214.5,458.35 217.65,461.5 214.5,464.65 211.35,461.5"/>
<polygon points="207.5,467.35 210.65,470.5 207.5,473.65 204.35,470.5"/>
<text x="252.8" y="371.8" font-size="11.8" font-weight="normal" class="n" fill="#222">iv</text>
<text x="258.3" y="450" font-size="10.3" text-anchor="middle" textLength="99.5" lengthAdjust="spacingAndGlyphs" transform="rotate(-90 258.3 450)" class="s">WBC Differential (%)</text>
<text x="268.7" y="503.2" font-size="9.8" text-anchor="middle" textLength="5.1" lengthAdjust="spacingAndGlyphs">0</text>
<line x1="277.2" y1="495.8" x2="278.6" y2="495.8" stroke="#888" stroke-width="0.9"/>
<text x="268.7" y="480.32" font-size="9.8" text-anchor="middle" textLength="10.2" lengthAdjust="spacingAndGlyphs">20</text>
<line x1="277.2" y1="472.92" x2="278.6" y2="472.92" stroke="#888" stroke-width="0.9"/>
<text x="268.7" y="457.44" font-size="9.8" text-anchor="middle" textLength="10.2" lengthAdjust="spacingAndGlyphs">40</text>
<line x1="277.2" y1="450.04" x2="278.6" y2="450.04" stroke="#888" stroke-width="0.9"/>
<text x="268.7" y="434.56" font-size="9.8" text-anchor="middle" textLength="10.2" lengthAdjust="spacingAndGlyphs">60</text>
<line x1="277.2" y1="427.16" x2="278.6" y2="427.16" stroke="#888" stroke-width="0.9"/>
<text x="268.7" y="411.68" font-size="9.8" text-anchor="middle" textLength="10.2" lengthAdjust="spacingAndGlyphs">80</text>
<line x1="277.2" y1="404.28" x2="278.6" y2="404.28" stroke="#888" stroke-width="0.9"/>
<text x="268.7" y="388.8" font-size="9.8" text-anchor="middle" textLength="15.3" lengthAdjust="spacingAndGlyphs">100</text>
<line x1="277.2" y1="381.4" x2="278.6" y2="381.4" stroke="#888" stroke-width="0.9"/>
<line x1="278.6" y1="381.4" x2="278.6" y2="496.6" stroke="#888" stroke-width="0.9"/>
<line x1="278.2" y1="496.2" x2="468" y2="496.2" stroke="#888" stroke-width="1"/>
<rect x="290.3" y="381.4" width="24" height="4.6" fill="#c8c8c8"/>
<rect x="290.3" y="386" width="24" height="84.5" fill="#4f4f4f"/>
<rect x="290.3" y="470.5" width="24" height="25.3" fill="#ffffff"/>
<path d="M290.3,381.4 H314.3 V495.8 H290.3 Z M290.3,386 H314.3 M290.3,470.5 H314.3" fill="none" stroke="#000" stroke-width="1.3"/>
<rect x="332.6" y="381.4" width="24" height="11.8" fill="#c8c8c8"/>
<rect x="332.6" y="393.2" width="24" height="79.1" fill="#4f4f4f"/>
<rect x="332.6" y="472.3" width="24" height="23.5" fill="#ffffff"/>
<path d="M332.6,381.4 H356.6 V495.8 H332.6 Z M332.6,393.2 H356.6 M332.6,472.3 H356.6" fill="none" stroke="#000" stroke-width="1.3"/>
<rect x="376.4" y="381.4" width="24" height="22.7" fill="#c8c8c8"/>
<rect x="376.4" y="404.1" width="24" height="63.5" fill="#4f4f4f"/>
<rect x="376.4" y="467.6" width="24" height="28.2" fill="#ffffff"/>
<path d="M376.4,381.4 H400.4 V495.8 H376.4 Z M376.4,404.1 H400.4 M376.4,467.6 H400.4" fill="none" stroke="#000" stroke-width="1.3"/>
<rect x="418.8" y="381.4" width="24" height="29.7" fill="#c8c8c8"/>
<rect x="418.8" y="411.1" width="24" height="57.1" fill="#4f4f4f"/>
<rect x="418.8" y="468.2" width="24" height="27.6" fill="#ffffff"/>
<path d="M418.8,381.4 H442.8 V495.8 H418.8 Z M418.8,411.1 H442.8 M418.8,468.2 H442.8" fill="none" stroke="#000" stroke-width="1.3"/>
<text x="280" y="508" font-size="9.8" textLength="19.2" lengthAdjust="spacingAndGlyphs">FLT3</text>
<text x="299.5" y="505.4" font-size="6.2" textLength="18" lengthAdjust="spacingAndGlyphs" class="s">wt/wt</text>
<text x="323.6" y="508" font-size="9.8" textLength="19.2" lengthAdjust="spacingAndGlyphs">FLT3</text>
<text x="343.1" y="505.4" font-size="6.2" textLength="20.2" lengthAdjust="spacingAndGlyphs" class="s">wt/ITD</text>
<text x="372" y="508" font-size="9.8" textLength="19.2" lengthAdjust="spacingAndGlyphs">FLT3</text>
<text x="391.5" y="505.4" font-size="6.2" textLength="16" lengthAdjust="spacingAndGlyphs" class="s">-/ITD</text>
<text x="416" y="508" font-size="9.8" textLength="19.2" lengthAdjust="spacingAndGlyphs">FLT3</text>
<text x="435.5" y="505.4" font-size="6.2" textLength="22.2" lengthAdjust="spacingAndGlyphs" class="s">ITD/ITD</text>
<line x1="276.4" y1="513.4" x2="411" y2="513.4" stroke="#444" stroke-width="1.3"/>
<line x1="418" y1="513.4" x2="463.4" y2="513.4" stroke="#444" stroke-width="1.3"/>
<text x="348.6" y="526.8" font-size="10.3" text-anchor="middle" textLength="39.5" lengthAdjust="spacingAndGlyphs">2 month</text>
<text x="433.4" y="526.8" font-size="10.3" text-anchor="middle" textLength="33.5" lengthAdjust="spacingAndGlyphs">3 week</text>
<rect x="446.6" y="391.4" width="4.8" height="4.8" fill="#c8c8c8" stroke="#555" stroke-width="0.7"/>
<text x="453.2" y="396.9" font-size="8.6" textLength="51" lengthAdjust="spacingAndGlyphs" font-family='"DejaVu Sans", "Liberation Sans", sans-serif'>Monocytes</text>
<rect x="446.6" y="400.6" width="4.8" height="4.8" fill="#4f4f4f" stroke="#555" stroke-width="0.7"/>
<text x="453.2" y="406.1" font-size="8.6" textLength="63" lengthAdjust="spacingAndGlyphs" font-family='"DejaVu Sans", "Liberation Sans", sans-serif'>Lymphocytes</text>
<rect x="446.6" y="410" width="4.8" height="4.8" fill="#ffffff" stroke="#555" stroke-width="0.7"/>
<text x="453.2" y="415.5" font-size="8.6" textLength="56" lengthAdjust="spacingAndGlyphs" font-family='"DejaVu Sans", "Liberation Sans", sans-serif'>Neutrophile</text>
</svg>
</body>
</html>
